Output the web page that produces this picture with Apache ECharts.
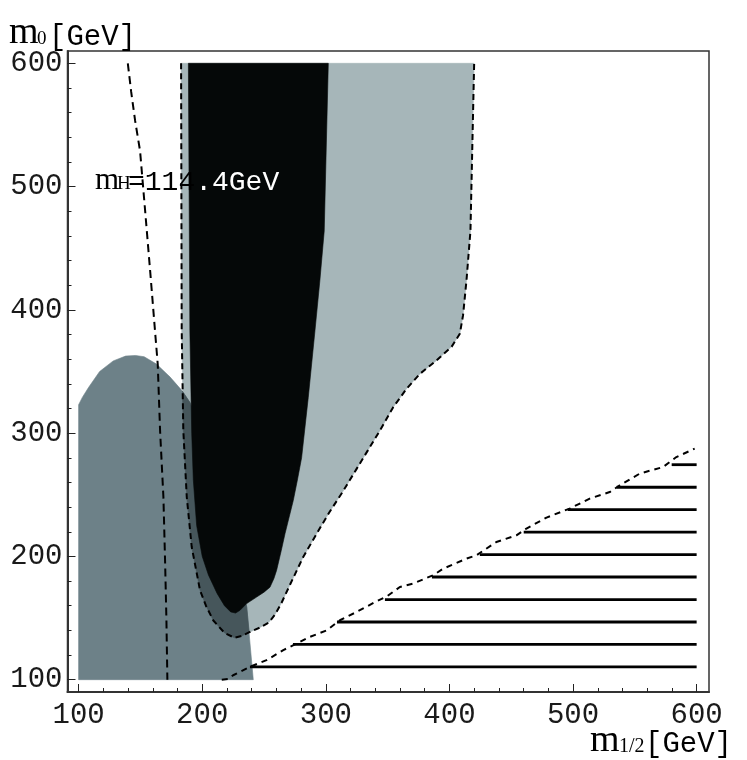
<!DOCTYPE html>
<html><head><meta charset="utf-8">
<script src="https://cdn.jsdelivr.net/npm/echarts@6/dist/echarts.min.js"></script>
<style>html,body{margin:0;padding:0;background:#fff}#c{width:747px;height:760px}</style>
</head><body><div id="c"></div>
<script>
// ---- tick values ----
const xMajorTicks = [100, 200, 300, 400, 500, 600];
const xMinorTicks = [100, 120, 140, 160, 180, 200, 220, 240, 260, 280, 300, 320, 340, 360, 380, 400, 420, 440, 460, 480, 500, 520, 540, 560, 580, 600];
const yMajorTicks = [100, 200, 300, 400, 500, 600];
const yMinorTicks = [100, 120, 140, 160, 180, 200, 220, 240, 260, 280, 300, 320, 340, 360, 380, 400, 420, 440, 460, 480, 500, 520, 540, 560, 580, 600];

// ---- regions (m1/2, m0) in GeV ----
const midRegion = [[100,100],[100,323],[103,329],[108,337],[117,350],[128,358.6],[138,362.5],[146,363],[153,362],[163,356],[174,345.5],[183.4,334.7],[190,325],[200,300],[213,255],[224,210],[231,180],[236,159],[241.3,100]];
const lightRegion = [[182.9,600],[183.4,383],[184.7,302],[187.5,248],[191.5,207.6],[198.2,172.6],[203,160],[209,148],[218,138],[226,134],[232,135.5],[238.6,138.7],[246.7,142.3],[254,146.5],[259,153],[264,162],[271,177],[281.7,199.5],[292.6,218.5],[303,236],[314,253],[324.9,271],[334,286],[343.7,302],[354.5,321],[365.3,336],[376,348],[389.6,359],[401.7,370],[408.4,380.6],[411,395.5],[413.8,424],[417,464],[420,600]];
const overlapRegion = [[184,334],[184.7,302],[187.5,248],[191.5,207.6],[198.2,172.6],[203,160],[209,148],[218,138],[226,134],[232,135.5],[238,138.4],[236,159],[231,180],[224,210],[213,255],[200,300],[190,325]];
const blackRegion = [[188.8,600],[190,383],[191.5,300],[192.8,262],[195.5,225],[200,200],[205,185],[212,170],[218,160],[223,155],[227,154],[230.6,156.3],[236,161.8],[244,167],[250,171],[254.8,175],[258,182],[260.2,188.8],[264,205],[267,218.5],[273.7,245.5],[277,262],[280.4,280],[285.8,329],[291.2,383],[295.2,424],[298.7,464],[302,600]];
const higgsLine = [[139.8,600],[142.5,577],[145.7,553.5],[149.7,529],[153.8,480.5],[158,430],[161.8,383],[164,356],[165.9,302],[168.6,248],[170,194],[171,150],[171.8,100]];
const hatchBoundary = [[215.8,100],[221,100.5],[225,103.6],[238.6,110.4],[252,115.8],[265.6,124],[276.4,129.3],[287.1,134.7],[300.6,140],[311.4,148.2],[325,155],[340,163],[350,168],[359.9,175.2],[370.7,178],[386.8,184.7],[394.9,190],[413.8,198.2],[421.9,201],[438,211.7],[454.2,217.1],[462.3,222.6],[478.5,231.5],[497.3,238.8],[513.5,246.9],[529.7,252.2],[537.8,257.7],[554,267.2],[572.8,272.5],[583.6,280.6],[598.4,287.4]];
const hatchLevels = [110.4, 128.6, 146.8, 165, 183.3, 201.5, 219.7, 237.9, 256.1, 274.4];
const hatchStarts = [238.6, 273.4, 309, 347.8, 385.8, 424.6, 460.1, 495.7, 535.3, 579.8];
const hatchEnd = 600;

const chart = echarts.init(document.getElementById('c'), null, {renderer: 'canvas'});

function polySeries(pts, color, z) {
  return {
    type: 'custom', coordinateSystem: 'cartesian2d', xAxisIndex: 0, yAxisIndex: 0,
    data: pts, encode: {x: 0, y: 1}, silent: true, z: z, clip: true, animation: false,
    renderItem: function (params, api) {
      if (params.dataIndex !== 0) return null;
      return {type: 'polygon', shape: {points: pts.map(p => api.coord(p))},
              style: {fill: color, stroke: color, lineWidth: 0.6}};
    }
  };
}
function dashSeries(pts, dash, z) {
  return {type: 'line', xAxisIndex: 0, yAxisIndex: 0, data: pts, symbol: 'none', showSymbol: false,
          silent: true, animation: false, z: z,
          lineStyle: {color: '#000', width: 2, type: dash}};
}
const hatchData = hatchLevels.map((y, i) => [hatchStarts[i], hatchEnd, y]);

const mono = '"Liberation Mono", "DejaVu Sans Mono", monospace';
const serif = '"Liberation Serif", "DejaVu Serif", serif';

function txt(x, y, s, font, size, color) {
  return {type: 'text', x: x, y: y, z: 100,
          style: {text: s, fontFamily: font, fontSize: size, fill: color || '#000',
                  align: 'left', verticalAlign: 'middle'}};
}

const option = {
  backgroundColor: '#fff',
  animation: false,
  grid: {left: 67.5, right: 38, top: 51, bottom: 68, show: true, borderColor: '#333', borderWidth: 1.5, backgroundColor: 'transparent'},
  xAxis: [
    {type: 'value', min: 91, max: 610, position: 'bottom',
     axisLine: {show: true, lineStyle: {color: '#333', width: 2}},
     axisTick: {show: true, inside: true, length: 8, customValues: xMajorTicks, lineStyle: {color: '#222', width: 1}},
     axisLabel: {show: true, customValues: xMajorTicks, fontFamily: mono, fontSize: 29, color: '#1a1a1a', margin: 9},
     splitLine: {show: false}},
    {type: 'value', min: 91, max: 610, position: 'bottom',
     axisLine: {show: false},
     axisTick: {show: true, inside: true, length: 4, customValues: xMinorTicks, lineStyle: {color: '#222', width: 1}},
     axisLabel: {show: false}, splitLine: {show: false}}
  ],
  yAxis: [
    {type: 'value', min: 90, max: 610, position: 'left',
     axisLine: {show: true, lineStyle: {color: '#333', width: 2}},
     axisTick: {show: true, inside: true, length: 8, customValues: yMajorTicks, lineStyle: {color: '#222', width: 1}},
     axisLabel: {show: true, customValues: yMajorTicks, fontFamily: mono, fontSize: 29, color: '#1a1a1a', margin: 5},
     splitLine: {show: false}},
    {type: 'value', min: 90, max: 610, position: 'left',
     axisLine: {show: false},
     axisTick: {show: true, inside: true, length: 4, customValues: yMinorTicks, lineStyle: {color: '#222', width: 1}},
     axisLabel: {show: false}, splitLine: {show: false}}
  ],
  series: [
    polySeries(lightRegion, '#a6b6b9', 1),
    polySeries(midRegion, '#6d8188', 2),
    polySeries(overlapRegion, '#46565b', 3),
    polySeries(blackRegion, '#050808', 4),
    {type: 'custom', coordinateSystem: 'cartesian2d', xAxisIndex: 0, yAxisIndex: 0, data: hatchData,
     encode: {x: [0, 1], y: 2}, silent: true, z: 5, animation: false,
     renderItem: function (params, api) {
       const a = api.coord([api.value(0), api.value(2)]);
       const b = api.coord([api.value(1), api.value(2)]);
       return {type: 'line', shape: {x1: a[0], y1: a[1], x2: b[0], y2: b[1]},
               style: {stroke: '#000', lineWidth: 2.8}};
     }},
    dashSeries(lightRegion, [6, 4], 6),
    dashSeries(higgsLine, [8, 5], 6),
    dashSeries(hatchBoundary, [6, 5], 6)
  ],
  graphic: [
    txt(9, 33, 'm', serif, 38),
    txt(37, 39, '0', serif, 19),
    txt(49, 37, '[GeV]', mono, 29),
    txt(590, 741, 'm', serif, 38),
    txt(619, 747, '1/2', serif, 20),
    txt(645, 744, '[GeV]', mono, 29),
    txt(95, 181, 'm', serif, 31),
    txt(117, 184, 'H', serif, 19),
    txt(128, 183, '=114', mono, 28),
    txt(195.2, 183, '.4GeV', mono, 28, '#fff')
  ]
};
chart.setOption(option);
</script>
</body></html>
